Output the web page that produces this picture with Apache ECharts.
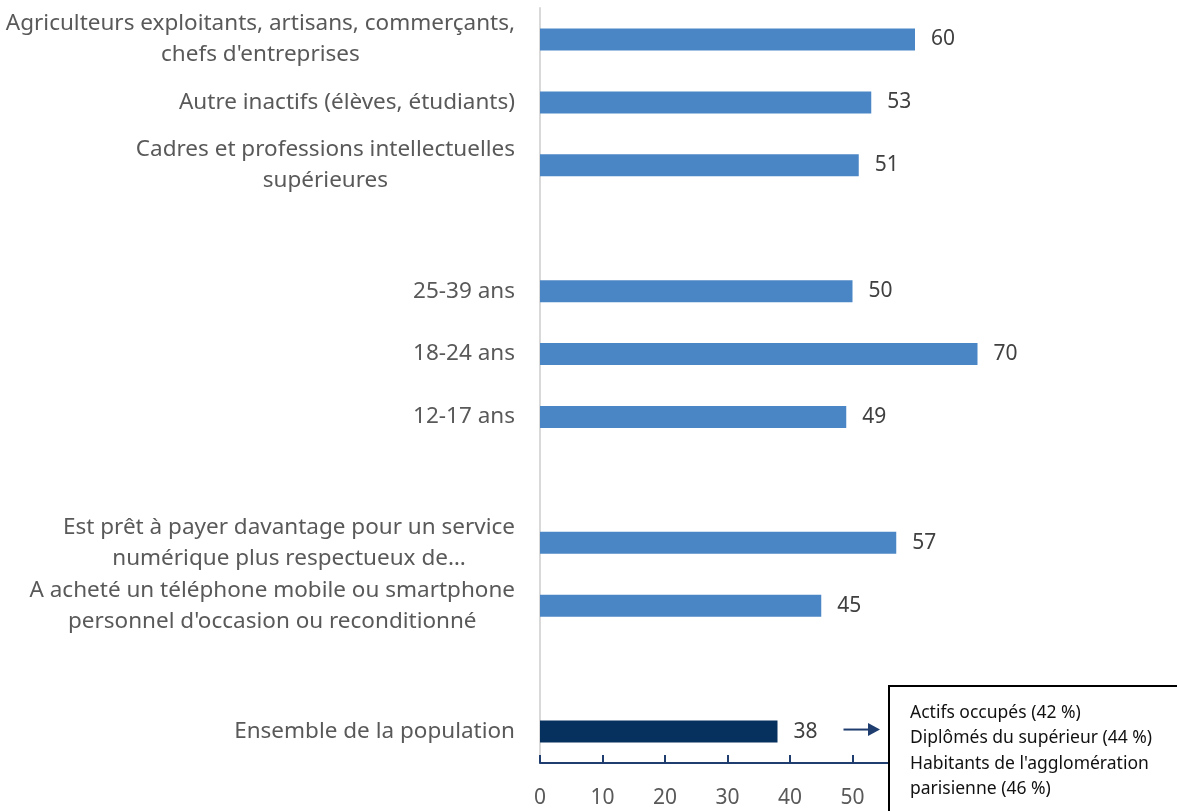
<!DOCTYPE html>
<html>
<head>
<meta charset="utf-8">
<script src="https://cdn.jsdelivr.net/npm/echarts@6/dist/echarts.min.js"></script>
<style>
  html, body { margin: 0; padding: 0; background: #fff; }
  #main { width: 1177px; height: 811px; }
</style>
</head>
<body>
<div id="main"></div>
<script>
// catégories (du haut vers le bas), lignes vides = séparateurs de groupes
var categories = [
    "Agriculteurs exploitants, artisans, commerçants,\nchefs d'entreprises",
    "Autre inactifs (élèves, étudiants)",
    "Cadres et professions intellectuelles\nsupérieures",
    "",
    "25-39 ans",
    "18-24 ans",
    "12-17 ans",
    " ",
    "Est prêt à payer davantage pour un service\nnumérique plus respectueux de…",
    "A acheté un téléphone mobile ou smartphone\npersonnel d'occasion ou reconditionné",
    "  ",
    "Ensemble de la population"
];
var values = [60, 53, 51, null, 50, 70, 49, null, 57, 45, null, 38];
var highlight = "Ensemble de la population";

var xTicks = { min: 0, max: 100, interval: 10 };

var boxLines = [
    "Actifs occupés (42 %)",
    "Diplômés du supérieur (44 %)",
    "Habitants de l'agglomération",
    "parisienne (46 %)"
];

var chart = echarts.init(document.getElementById('main'));

var barData = values.map(function (v, i) {
    if (v === null) return '-';
    return {
        value: v,
        itemStyle: { color: categories[i] === highlight ? '#06315f' : '#4a86c5' }
    };
});

var option = {
    animation: false,
    textStyle: { fontFamily: 'Noto Sans' },
    grid: { left: 540, right: 12, top: 8, bottom: 48, containLabel: false, outerBoundsMode: 'none' },
    xAxis: {
        type: 'value',
        min: xTicks.min,
        max: xTicks.max,
        interval: xTicks.interval,
        axisLine: { show: true, lineStyle: { color: '#1f3d6e', width: 2 } },
        axisTick: { show: true, inside: true, length: 8, lineStyle: { color: '#1f3d6e', width: 2 } },
        axisLabel: { color: '#595959', fontSize: 21, margin: 25 },
        splitLine: { show: false }
    },
    yAxis: {
        type: 'category',
        inverse: true,
        data: categories,
        axisLine: { show: true, lineStyle: { color: '#d9d9d9', width: 2 } },
        axisTick: { show: false },
        axisLabel: {
            margin: 25,
            color: '#595959',
            fontSize: 22.5,
            lineHeight: 31,
            formatter: function (val) {
                return val.split('\n').map(function (l) { return '{c|' + l + '}'; }).join('\n');
            },
            rich: {
                c: { align: 'center', fontSize: 22.5, lineHeight: 31, color: '#595959' }
            }
        }
    },
    series: [{
        type: 'bar',
        data: barData,
        barWidth: 22,
        label: {
            show: true,
            position: 'right',
            distance: 16,
            color: '#404040',
            fontSize: 21
        }
    }]
};

chart.setOption(option);

// encadré + flèche positionnés à partir de la barre "Ensemble"
var idx = categories.indexOf(highlight);
var p = chart.convertToPixel({ gridIndex: 0 }, [values[idx], idx]);
var ay = p[1] - 2;
var bx = 889, by = 686;
chart.setOption({
    graphic: [
        {
            type: 'line', z: 100,
            shape: { x1: p[0] + 66, y1: ay, x2: bx - 18, y2: ay },
            style: { stroke: '#1f3d6e', lineWidth: 2 }
        },
        {
            type: 'polygon', z: 100,
            shape: { points: [[bx - 9, ay], [bx - 21, ay - 6.5], [bx - 21, ay + 6.5]] },
            style: { fill: '#1f3d6e' }
        },
        {
            type: 'rect', z: 100,
            shape: { x: bx, y: by, width: 320, height: 160 },
            style: { fill: '#fff', stroke: '#000', lineWidth: 2 }
        },
        {
            type: 'text', z: 101,
            x: bx + 21, y: by + 14,
            style: {
                text: boxLines.join('\n'),
                fontFamily: 'Noto Sans',
                fontSize: 17.5,
                lineHeight: 25.5,
                fill: '#111'
            }
        }
    ]
});
</script>
</body>
</html>
